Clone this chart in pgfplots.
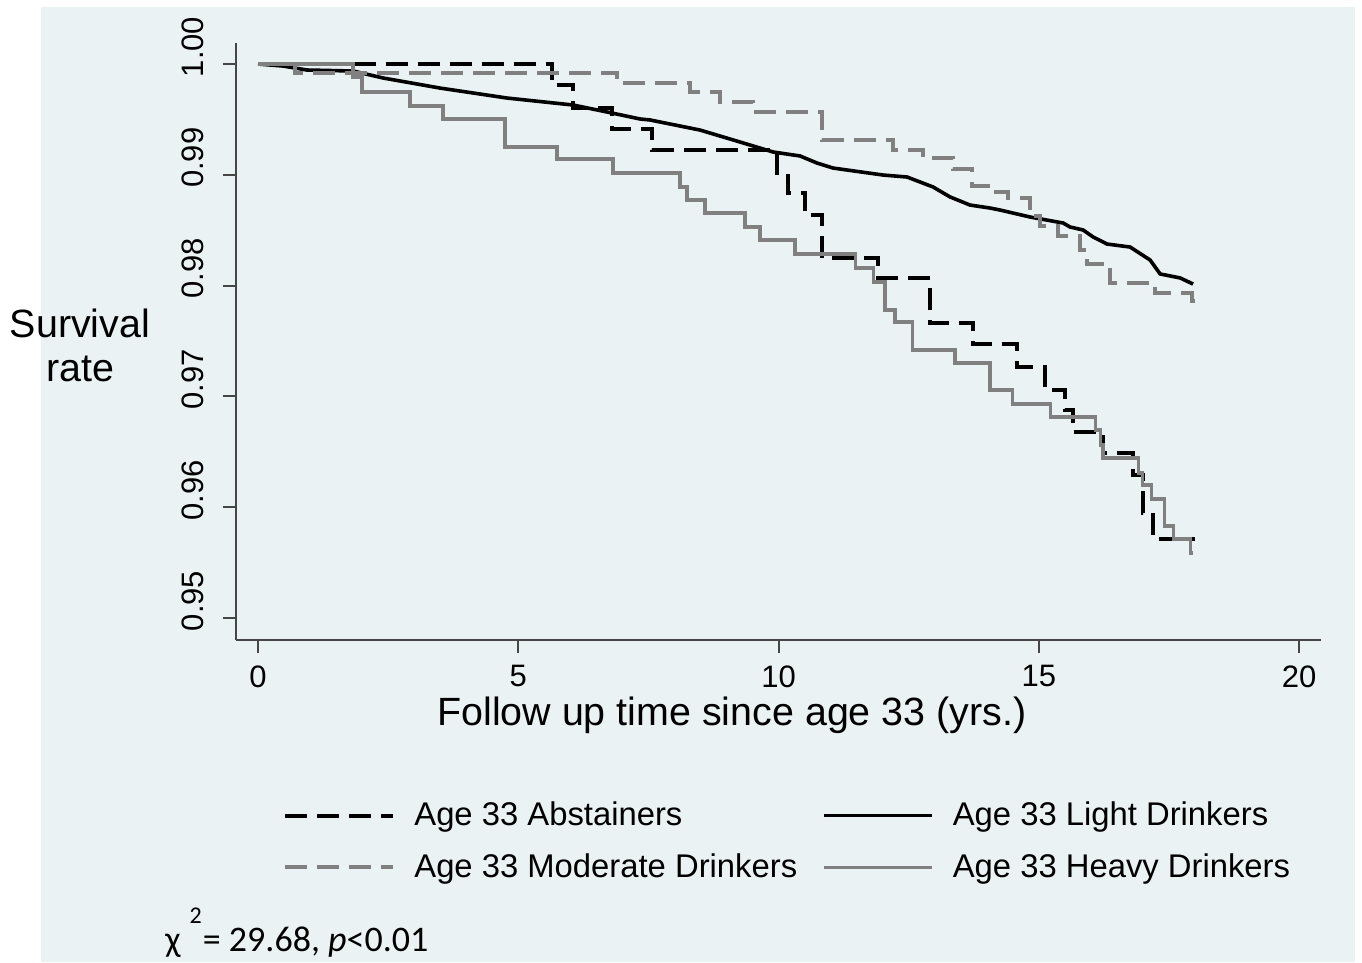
\documentclass[border=0pt]{standalone}
\usepackage{pgfplots}
\pgfplotsset{compat=1.18}
\usepackage{fontspec}
\setmainfont{Liberation Sans}
\newfontfamily\calibri{Carlito}
\definecolor{panel}{RGB}{234,242,243}
\definecolor{kmgray}{RGB}{128,128,128}
\definecolor{axisgray}{RGB}{70,70,70}
\newcommand{\ylab}[1]{\hspace*{17pt}\raisebox{9.5pt}{#1}}

\begin{document}
\begin{tikzpicture}
% one pixel of the reference = 0.5pt, y counted from the bottom
\fill[white] (0pt,0pt) rectangle (681pt,481.5pt);
\fill[panel] (20.5pt,0.5pt) rectangle (677.5pt,477.75pt);
\begin{axis}[
  at={(118pt,161.5pt)}, anchor=south west,
  width=542.5pt, height=298.5pt, scale only axis,
  xmin=-0.423, xmax=20.42, ymin=0.94801, ymax=1.0019,
  axis x line*=bottom, axis y line*=left,
  axis line style={axisgray, line width=1pt},
  tick align=outside, major tick length=6.5pt,
  tick style={axisgray, line width=1pt},
  xtick={0,5,10,15,20},
  ytick={0.95,0.96,0.97,0.98,0.99,1.00},
  yticklabels={\ylab{0.95},\ylab{0.96},\ylab{0.97},\ylab{0.98},\ylab{0.99},\ylab{1.00}},
  /pgf/number format/assume math mode=true,
  tick label style={font=\fontsize{15.5}{18}\selectfont, inner sep=0pt},
  yticklabel style={rotate=90, anchor=south},
  xticklabel style={anchor=north, yshift=-6pt},
  xlabel={Follow up time since age 33 (yrs.)},
  xlabel style={at={(axis description cs:0.457,-0.127)}, anchor=center,
    font=\fontsize{19.7}{22}\selectfont},
  ylabel={Survival\\rate},
  ylabel style={at={(axis description cs:-0.1438,0.494)}, rotate=-90,
    anchor=center, align=center, font=\fontsize{19.7}{22}\selectfont},
  legend columns=2,
  legend cell align=left,
  legend image code/.code={\draw[#1] (0pt,0pt) -- (54pt,0pt);},
  legend style={at={(0.0433,-0.3375)}, anchor=west, draw=none, fill=none,
    inner sep=0pt, font=\fontsize{16.4}{19}\selectfont, row sep=12.5pt,
    nodes={inner sep=0pt},
    /tikz/every odd column/.append style={column sep=9.5pt},
    /tikz/every even column/.append style={column sep=12.5pt}},
]
% Age 33 Abstainers
\addplot[black, line width=2pt, dash pattern=on 11pt off 5pt, const plot] coordinates {
(0,1.0) (5.648,0.99810) (6.052,0.99603) (6.801,0.99413) (7.570,0.99224)
(9.971,0.99016) (10.183,0.98836) (10.509,0.98637) (10.836,0.98249)
(11.912,0.98069) (12.911,0.97662) (13.737,0.97473) (14.582,0.97265)
(15.120,0.97058) (15.504,0.96877) (15.658,0.96679) (16.234,0.96489)
(16.811,0.96291) (17.003,0.95948) (17.195,0.95713) (18.002,0.95713)};
\addlegendentry{Age 33 Abstainers}
% Age 33 Light Drinkers
\addplot[black, line width=1.8pt] coordinates {
(0,1.0) (0.480,0.99982) (0.941,0.99946) (1.825,0.99937) (2.402,0.99874)
(3.497,0.99783) (4.784,0.99693) (6.052,0.99630) (6.705,0.99567)
(7.339,0.99504) (7.531,0.99495) (8.492,0.99404) (9.260,0.99296)
(9.894,0.99206) (10.413,0.99170) (10.740,0.99106) (11.047,0.99061)
(12.008,0.98998) (12.469,0.98980) (12.968,0.98890) (13.295,0.98800)
(13.679,0.98727) (14.063,0.98700) (14.256,0.98682) (14.832,0.98619)
(15.466,0.98565) (15.600,0.98529) (15.850,0.98502) (16.042,0.98439)
(16.311,0.98375) (16.753,0.98348) (17.137,0.98231) (17.330,0.98105)
(17.714,0.98069) (17.963,0.98014)};
\addlegendentry{Age 33 Light Drinkers}
% Age 33 Moderate Drinkers
\addplot[kmgray, line width=2pt, dash pattern=on 11pt off 5pt, const plot] coordinates {
(0,1.0) (0.711,0.99919) (6.897,0.99829) (8.300,0.99747) (8.876,0.99657)
(9.510,0.99567) (10.836,0.99314) (12.200,0.99224) (12.776,0.99152)
(13.353,0.99052) (13.718,0.98899) (14.063,0.98845) (14.409,0.98791)
(14.832,0.98628) (15.024,0.98538) (15.370,0.98448) (15.793,0.98321)
(15.927,0.98195) (16.369,0.98023) (17.233,0.97933) (17.944,0.97861)
(18.002,0.97861)};
\addlegendentry{Age 33 Moderate Drinkers}
% Age 33 Heavy Drinkers
\addplot[kmgray, line width=1.6pt, const plot] coordinates {
(0,1.0) (1.825,0.99883) (1.998,0.99747) (2.920,0.99621) (3.554,0.99504)
(4.745,0.99251) (5.745,0.99143) (6.820,0.99016) (8.108,0.98890)
(8.242,0.98773) (8.588,0.98655) (9.356,0.98529) (9.645,0.98412)
(10.317,0.98285) (11.470,0.98159) (11.816,0.98032) (12.046,0.97780)
(12.238,0.97671) (12.565,0.97419) (13.391,0.97301) (14.063,0.97058)
(14.486,0.96931) (15.216,0.96814) (16.081,0.96697) (16.177,0.96561)
(16.234,0.96444) (16.907,0.96309) (16.984,0.96200) (17.157,0.96074)
(17.406,0.95830) (17.579,0.95713) (17.906,0.95587) (17.963,0.95587)};
\addlegendentry{Age 33 Heavy Drinkers}
\end{axis}
\node[anchor=base west, inner sep=0pt, font=\calibri\fontsize{18}{20}\selectfont]
  at (82.5pt,5.5pt) {χ\hspace{4.5pt}\raisebox{14pt}{\fontsize{12}{12}\selectfont 2}\hspace{0.5pt}= 29.68, \textit{p}<0.01};
\end{tikzpicture}
\end{document}
